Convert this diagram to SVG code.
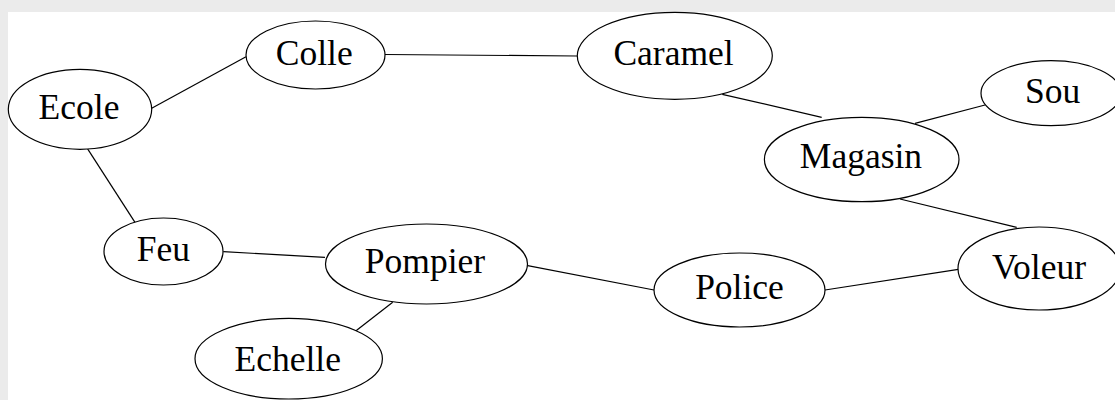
<svg xmlns="http://www.w3.org/2000/svg" width="1115" height="400" viewBox="0 0 1115 400">
<style>
.n ellipse{fill:#ffffff;stroke:#000000;stroke-width:1.2}
.n text{font-family:"Liberation Serif","Times New Roman",serif;font-size:35.5px;fill:#000000;text-anchor:middle}
#edges line{stroke:#000000;stroke-width:1.2}
</style>
<rect x="0" y="0" width="1115" height="400" fill="#ebebeb"/>
<rect x="8" y="12" width="1107" height="388" fill="#ffffff"/>
<g id="edges">
<line x1="151.7" y1="108.3" x2="246" y2="56.7"/>
<line x1="385" y1="54.5" x2="577" y2="56"/>
<line x1="722.3" y1="94.3" x2="821.7" y2="117.3"/>
<line x1="915" y1="123.3" x2="985" y2="105"/>
<line x1="900" y1="199" x2="1016.7" y2="227.3"/>
<line x1="825" y1="290" x2="958.3" y2="269.3"/>
<line x1="527.7" y1="265.7" x2="654" y2="290"/>
<line x1="223.3" y1="251.7" x2="325" y2="257.3"/>
<line x1="392.7" y1="302.3" x2="355.7" y2="331"/>
<line x1="87.3" y1="148.3" x2="135" y2="222.3"/>
</g>
<g id="Ecole" class="n"><ellipse cx="80" cy="109.3" rx="71.7" ry="40"/><text x="79" y="119.3">Ecole</text></g>
<g id="Colle" class="n"><ellipse cx="315.5" cy="55" rx="69.5" ry="34"/><text x="314.3" y="64.5">Colle</text></g>
<g id="Caramel" class="n"><ellipse cx="674.8" cy="55.8" rx="97.5" ry="43.5"/><text x="673.5" y="65">Caramel</text></g>
<g id="Magasin" class="n"><ellipse cx="861.7" cy="159.5" rx="97.3" ry="42.2"/><text x="861" y="168.3">Magasin</text></g>
<g id="Sou" class="n"><ellipse cx="1051" cy="93.2" rx="70" ry="32.5"/><text x="1052.7" y="102.7">Sou</text></g>
<g id="Voleur" class="n"><ellipse cx="1039" cy="268.5" rx="81" ry="41.5"/><text x="1039" y="279.3">Voleur</text></g>
<g id="Police" class="n"><ellipse cx="739.5" cy="290" rx="85.5" ry="37"/><text x="739.5" y="299.3">Police</text></g>
<g id="Pompier" class="n"><ellipse cx="426.5" cy="264" rx="101" ry="40"/><text x="425" y="273">Pompier</text></g>
<g id="Feu" class="n"><ellipse cx="163.5" cy="251.5" rx="59.5" ry="33.5"/><text x="163.3" y="261">Feu</text></g>
<g id="Echelle" class="n"><ellipse cx="288.7" cy="358.7" rx="93.7" ry="40.3"/><text x="287.7" y="370.7">Echelle</text></g>
</svg>
